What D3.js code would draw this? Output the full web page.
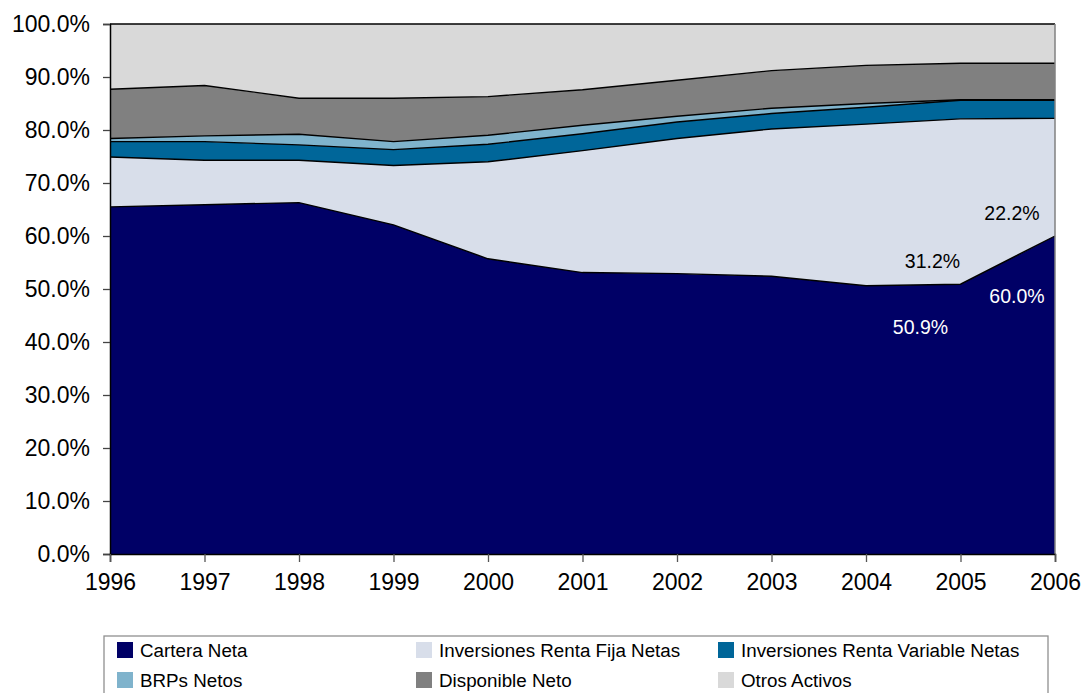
<!DOCTYPE html>
<html lang="es">
<head>
<meta charset="utf-8">
<title>Composición del activo</title>
<script src="https://cdn.jsdelivr.net/npm/d3@7/dist/d3.min.js"></script>
<style>
  body { margin: 0; background: #fff; }
  text { font-family: Arial, "Liberation Sans", sans-serif; fill: #000; }
</style>
</head>
<body>
<svg id="chart" width="1084" height="693"></svg>
<script>
// data (% of total assets)
var years = [1996, 1997, 1998, 1999, 2000, 2001, 2002, 2003, 2004, 2005, 2006];
var seriesNames = ["Cartera Neta", "Inversiones Renta Fija Netas", "Inversiones Renta Variable Netas",
                   "BRPs Netos", "Disponible Neto", "Otros Activos"];
var carteraNeta   = [65.5, 65.9, 66.3, 62.1, 55.7, 53.1, 52.9, 52.4, 50.6, 50.9, 60.0];
var rentaFija     = [ 9.4,  8.4,  8.0, 11.2, 18.3, 23.0, 25.5, 27.8, 30.5, 31.2, 22.2];
var rentaVariable = [ 2.9,  3.5,  2.9,  3.0,  3.3,  3.2,  3.1,  2.9,  3.2,  3.5,  3.4];
var brpsNetos     = [ 0.6,  1.1,  2.0,  1.5,  1.7,  1.6,  1.1,  1.0,  0.7,  0.1,  0.1];
var disponible    = [ 9.3,  9.5,  6.8,  8.2,  7.3,  6.7,  6.8,  7.1,  7.2,  6.9,  6.9];
var otrosActivos  = [12.3, 11.6, 14.0, 14.0, 13.7, 12.4, 10.6,  8.8,  7.8,  7.4,  7.4];
var yTicks = [0, 10, 20, 30, 40, 50, 60, 70, 80, 90, 100];
// data labels shown on the chart: year, series index, text
var labelYears  = [2005, 2005, 2006, 2006];
var labelSeries = [0, 1, 0, 1];
var labelText   = ["50.9%", "31.2%", "60.0%", "22.2%"];

var colors = ["#000066", "#d8deea", "#006699", "#7fb3cc", "#808080", "#d9d9d9"];

var svg = d3.select("#chart");
var margin = {top: 24, left: 110, right: 29, bottom: 139};
var width = 1084 - margin.left - margin.right,
    height = 693 - margin.top - margin.bottom;

var g = svg.append("g").attr("transform", `translate(${margin.left},${margin.top})`);

var x = d3.scaleLinear().domain([1996, 2006]).range([0, width]);
var y = d3.scaleLinear().domain([0, 100]).range([height, 0]);

var allSeries = [carteraNeta, rentaFija, rentaVariable, brpsNetos, disponible, otrosActivos];
var table = years.map(function(yr, i) {
  var row = {year: yr};
  seriesNames.forEach(function(k, j) { row[k] = allSeries[j][i]; });
  return row;
});

var stacked = d3.stack().keys(seriesNames)(table);

var area = d3.area()
  .x(d => x(d.data.year))
  .y0(d => y(d[0]))
  .y1(d => y(d[1]));

var topLine = d3.line()
  .x(d => x(d.data.year))
  .y(d => y(d[1]));

g.selectAll("path.layer")
  .data(stacked)
  .enter().append("path")
  .attr("class", "layer")
  .attr("fill", (d, i) => colors[i])
  .attr("d", area);

g.selectAll("path.edge")
  .data(stacked)
  .enter().append("path")
  .attr("class", "edge")
  .attr("fill", "none")
  .attr("stroke", "#000")
  .attr("stroke-width", 1.4)
  .attr("d", topLine);

// plot area frame (grey right side)
g.append("line")
  .attr("x1", width).attr("x2", width)
  .attr("y1", 0).attr("y2", height)
  .attr("stroke", "#808080").attr("stroke-width", 1.5);

// axes
var yAxis = g.append("g")
  .call(d3.axisLeft(y).tickValues(yTicks).tickSize(7).tickPadding(13)
    .tickFormat(d => d3.format(".1f")(d) + "%"));
yAxis.select(".domain").attr("stroke", "#000").attr("stroke-width", 1.5);
yAxis.selectAll(".tick line").attr("stroke", "#444").attr("stroke-width", 1.3);
yAxis.selectAll("text").attr("font-size", "23px").attr("font-family", "Arial, 'Liberation Sans', sans-serif");

var xAxis = g.append("g")
  .attr("transform", `translate(0,${height})`)
  .call(d3.axisBottom(x).tickValues(years).tickSize(8).tickPadding(12).tickFormat(d3.format("d")));
xAxis.select(".domain").attr("stroke", "#000").attr("stroke-width", 1.5);
xAxis.selectAll(".tick line").attr("stroke", "#555").attr("stroke-width", 1.3);
xAxis.selectAll("text").attr("font-size", "23px").attr("font-family", "Arial, 'Liberation Sans', sans-serif");

// data labels
var labelDx = {2005: -40, 2006: -38};
g.selectAll("text.dlabel")
  .data(labelText)
  .enter().append("text")
  .attr("class", "dlabel")
  .attr("text-anchor", "middle")
  .attr("font-size", "19.5px")
  .attr("x", function(d, i) {
    var dx = labelDx[labelYears[i]];
    if (labelSeries[i] === 1) dx += labelYears[i] === 2005 ? 12 : -5;
    return x(labelYears[i]) + dx;
  })
  .attr("y", function(d, i) {
    var pt = stacked[0][years.indexOf(labelYears[i])];
    var top = y(pt[1]);
    if (labelSeries[i] === 0) return top + (labelYears[i] === 2005 ? 50 : 67);
    return top - 16;
  })
  .style("fill", (d, i) => labelSeries[i] === 0 ? "#fff" : "#000")
  .text(d => d);

// legend
var legend = svg.append("g");
legend.append("rect")
  .attr("x", 104).attr("y", 636)
  .attr("width", 944).attr("height", 80)
  .attr("fill", "#fff").attr("stroke", "#909090").attr("stroke-width", 1.3);

var colX = [117, 416, 718];
var rowY = [642, 672];
var item = legend.selectAll("g.item")
  .data(seriesNames)
  .enter().append("g")
  .attr("class", "item")
  .attr("transform", (d, i) => `translate(${colX[i % 3]},${rowY[Math.floor(i / 3)]})`);

item.append("rect")
  .attr("width", 16).attr("height", 16)
  .attr("fill", (d, i) => colors[i]);

item.append("text")
  .attr("x", 23).attr("y", 15)
  .attr("font-size", "18.8px")
  .text(d => d);
</script>
</body>
</html>
